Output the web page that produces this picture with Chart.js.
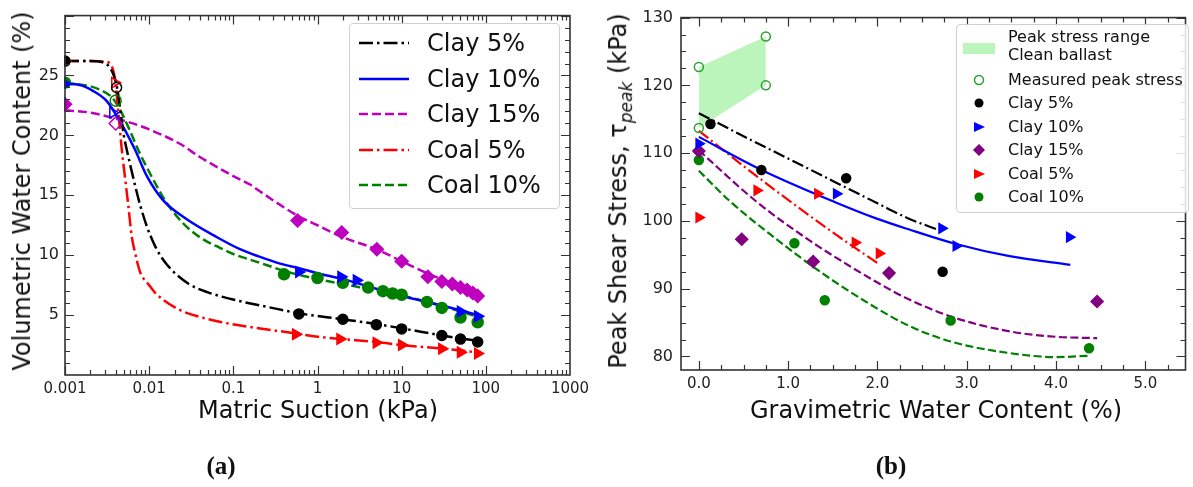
<!DOCTYPE html>
<html>
<head>
<meta charset="utf-8">
<script src="https://cdn.jsdelivr.net/npm/chart.js@4.4.1/dist/chart.umd.min.js"></script>
<style>
body { margin: 0; width: 1193px; height: 487px; background: #fff; position: relative; overflow: hidden; font-family: 'DejaVu Sans', sans-serif; color: #111; }
canvas { position: absolute; top: 0; }
#chartA { left: 0; }
#chartB { left: 600px; }
.ttl { position: absolute; white-space: nowrap; transform: translate(-50%, -50%); font-size: 24px; }
.ttl.rot { transform: translate(-50%, -50%) rotate(-90deg); }
.ttl sub { font-size: 17px; font-style: italic; }
.panel { position: absolute; font-family: 'Liberation Serif', serif; font-weight: bold; font-size: 25px; transform: translate(-50%, -50%); }
.legend { position: absolute; border: 1px solid #d0d0d0; border-radius: 4px; background: rgba(255,255,255,0.85); }
.legend .row { position: absolute; white-space: nowrap; }
.legend svg { position: absolute; }
</style>
</head>
<body>
<canvas id="chartA" width="596" height="487"></canvas>
<canvas id="chartB" width="593" height="487"></canvas>

<div class="ttl rot" style="left:22px; top:191px;">Volumetric Water Content (%)</div>
<div class="ttl" style="left:318px; top:410px;">Matric Suction (kPa)</div>
<div class="ttl rot" style="left:620px; top:191px;">Peak Shear Stress, τ<sub>peak</sub> (kPa)</div>
<div class="ttl" style="left:936px; top:410px;">Gravimetric Water Content (%)</div>
<div class="panel" style="left:221px; top:466px;">(a)</div>
<div class="panel" style="left:891px; top:466px;">(b)</div>

<div class="legend" id="legA" style="left:349px; top:23px; width:209px; height:184px;"></div>
<div class="legend" id="legB" style="left:956px; top:24px; width:231px; height:187px;"></div>

<script>
// ---------- Panel (a): soil water characteristic curves ----------
const seriesNames = ['Clay 5%', 'Clay 10%', 'Clay 15%', 'Coal 5%', 'Coal 10%'];

// fitted curves (suction kPa / water content %)
const clay5CurveS = [0.001, 0.002, 0.0028, 0.0033, 0.0038, 0.0042, 0.0046, 0.005, 0.0055, 0.0065, 0.0078, 0.0095, 0.0107, 0.0125, 0.0163, 0.0296, 0.05, 0.099, 0.34, 0.6, 2, 5, 10, 30, 50, 80];
const clay5CurveW = [26.2, 26.2, 26.1, 25.8, 25.0, 23.8, 21.8, 20.0, 18.6, 16.4, 14.2, 12.3, 11.4, 10.4, 9.2, 7.6, 6.9, 6.3, 5.5, 5.15, 4.65, 4.25, 3.9, 3.3, 3.05, 2.85];
const clay10CurveS = [0.001, 0.0015, 0.00217, 0.0031, 0.0039, 0.0052, 0.0068, 0.0094, 0.0146, 0.028, 0.064, 0.12, 0.2, 0.36, 0.62, 1, 2, 5, 10, 20, 50, 80];
const clay10CurveW = [24.3, 24.2, 23.7, 22.9, 21.9, 20.4, 18.8, 16.6, 14.6, 13.0, 11.5, 10.5, 9.9, 9.3, 8.9, 8.5, 8.0, 7.2, 6.6, 6.1, 5.4, 5.0];
const clay15CurveS = [0.001, 0.002, 0.004, 0.0064, 0.01, 0.0232, 0.04, 0.1, 0.158, 0.2, 0.36, 0.58, 1, 2, 5, 10, 20, 50, 80];
const clay15CurveW = [22.1, 21.9, 21.4, 21.0, 20.5, 19.3, 18.2, 16.6, 15.9, 15.4, 14.2, 13.3, 12.5, 11.5, 10.5, 9.5, 8.5, 7.4, 6.8];
const coal5CurveS = [0.001, 0.002, 0.003, 0.0035, 0.0039, 0.0043, 0.0047, 0.0052, 0.0056, 0.0062, 0.0068, 0.0078, 0.01, 0.012, 0.022, 0.04, 0.073, 0.2, 0.46, 1, 2, 5, 10, 30, 80];
const coal5CurveW = [26.2, 26.2, 26.15, 25.9, 24.8, 22.0, 19.0, 16.3, 14.4, 11.6, 10.2, 8.6, 7.5, 6.8, 5.5, 4.85, 4.4, 3.9, 3.55, 3.2, 3.0, 2.75, 2.5, 2.2, 1.9];
const coal10CurveS = [0.001, 0.002, 0.0026, 0.0037, 0.0047, 0.0059, 0.0074, 0.011, 0.016, 0.025, 0.04, 0.07, 0.1, 0.2, 0.4, 1, 2, 5, 10, 20, 50, 80];
const coal10CurveW = [24.4, 24.1, 23.8, 23.1, 21.9, 20.4, 18.8, 16.4, 14.4, 12.7, 11.5, 10.6, 10.1, 9.4, 8.7, 8.0, 7.6, 7.05, 6.65, 6.1, 5.3, 4.85];

// measured points (second point of each set is drawn open)
const clay5PtS = [0.001, 0.0041, 0.6, 2, 5, 10, 30, 50, 80];
const clay5PtW = [26.2, 24.0, 5.1, 4.65, 4.2, 3.85, 3.3, 3.0, 2.75];
const clay10PtS = [0.001, 0.0037, 0.6, 1.9, 2.9, 50, 80];
const clay10PtW = [24.3, 21.9, 8.6, 8.2, 7.9, 5.3, 4.9];
const clay15PtS = [0.001, 0.004, 0.58, 1.94, 5.07, 10, 20.5, 30, 40, 50, 60, 70, 80];
const clay15PtW = [22.6, 21.0, 12.9, 11.9, 10.5, 9.5, 8.2, 7.8, 7.6, 7.3, 7.1, 6.85, 6.6];
const coal5PtS = [0.001, 0.0039, 0.55, 1.85, 5, 10, 30, 50, 80];
const coal5PtW = [26.2, 24.4, 3.4, 3.0, 2.7, 2.5, 2.2, 1.9, 1.8];
const coal10PtS = [0.001, 0.004, 0.4, 1, 2, 4, 6, 7.8, 10, 20, 30, 50, 80];
const coal10PtW = [24.4, 22.9, 8.4, 8.1, 7.7, 7.3, 7.0, 6.8, 6.7, 6.1, 5.6, 4.8, 4.4];

const suctionTicks = [0.001, 0.01, 0.1, 1, 10, 100, 1000];
const suctionLabels = ['0.001', '0.01', '0.1', '1', '10', '100', '1000'];
const wcTicks = [0, 5, 10, 15, 20, 25, 30];
const wcLabels = ['', '5', '10', '15', '20', '25', ''];

// ---------- Panel (b): peak shear stress ----------
const bandX = [0, 0.75];
const bandTop = [122.7, 127.2];
const bandBottom = [113.7, 120.0];
const measuredX = [0, 0, 0.75, 0.75];
const measuredY = [122.7, 113.7, 127.2, 120.0];

const bClay5X = [0.13, 0.70, 1.65, 2.73];
const bClay5Y = [114.3, 107.5, 106.3, 92.5];
const bClay10X = [0, 1.54, 2.72, 2.88, 4.15];
const bClay10Y = [111.4, 104.0, 98.9, 96.3, 97.6];
const bClay15X = [0, 0.48, 1.28, 2.13, 4.46];
const bClay15Y = [110.3, 97.3, 94.0, 92.3, 88.1];
const bCoal5X = [0, 0.65, 1.33, 1.75, 2.02];
const bCoal5Y = [100.5, 104.5, 104.0, 96.8, 95.2];
const bCoal10X = [0, 1.07, 1.41, 2.82, 4.37];
const bCoal10Y = [109.0, 96.7, 88.3, 85.3, 81.2];

// trend lines
const fitClay5X = [0, 0.5, 1.0, 1.5, 2.0, 2.34, 2.72];
const fitClay5Y = [115.9, 112.5, 109.2, 105.9, 102.6, 100.4, 98.5];
const fitClay10X = [0, 0.69, 1.52, 2.0, 2.34, 2.88, 3.48, 4.16];
const fitClay10Y = [112.4, 107.6, 102.8, 100.3, 98.8, 96.6, 94.8, 93.5];
const fitClay15X = [0, 0.64, 1.23, 1.67, 2.0, 2.34, 2.82, 3.48, 4.0, 4.46];
const fitClay15Y = [110.4, 102.9, 97.2, 93.5, 90.9, 88.5, 85.9, 83.7, 82.9, 82.7];
const fitCoal5X = [0, 0.5, 1.0, 1.5, 2.02];
const fitCoal5Y = [113.3, 108.1, 103.1, 98.3, 93.6];
const fitCoal10X = [0, 0.34, 0.82, 1.38, 1.93, 2.34, 2.82, 3.48, 4.0, 4.36];
const fitCoal10Y = [107.4, 103.0, 97.8, 92.3, 87.6, 84.6, 82.2, 80.5, 79.9, 80.1];

const gwcTicks = [0, 1, 2, 3, 4, 5];
const gwcLabels = ['0.0', '1.0', '2.0', '3.0', '4.0', '5.0'];
const tauTicks = [80, 90, 100, 110, 120, 130];

// ---------- helpers ----------
const pts = (xs, ys) => xs.map((x, i) => ({x: x, y: ys[i]}));
const tickFont = {family: 'DejaVu Sans', size: 15};
const dashDotA = [14, 4, 2.5, 4];
const dashedA = [9, 4];
const dashDotB = [12, 3.5, 2, 3.5];
const dashedB = [8, 3.5];

// inward ticks on all four sides plus the frame
const frameTicks = {
    id: 'frameTicks',
    afterDraw(chart, args, opts) {
        const {ctx, chartArea: a, scales: {x, y}} = chart;
        ctx.save();
        ctx.strokeStyle = '#333';
        ctx.lineWidth = 1.2;
        ctx.beginPath();
        const xt = (vals, len) => vals.forEach(v => {
            const p = Math.round(x.getPixelForValue(v)) + 0.5;
            if (p < a.left || p > a.right) return;
            ctx.moveTo(p, a.bottom); ctx.lineTo(p, a.bottom - len);
            ctx.moveTo(p, a.top); ctx.lineTo(p, a.top + len);
        });
        const yt = (vals, len) => vals.forEach(v => {
            const p = Math.round(y.getPixelForValue(v)) + 0.5;
            if (p < a.top || p > a.bottom) return;
            ctx.moveTo(a.left, p); ctx.lineTo(a.left + len, p);
            ctx.moveTo(a.right, p); ctx.lineTo(a.right - len, p);
        });
        xt(x.ticks.map(t => t.value), 9);
        xt(opts.xMinor, 5);
        yt(y.ticks.map(t => t.value), 9);
        yt(opts.yMinor, 5);
        ctx.stroke();
        ctx.lineWidth = 1.6;
        ctx.strokeRect(a.left, a.top, a.right - a.left, a.bottom - a.top);
        ctx.restore();
    }
};

// minor tick positions
const suctionMinor = [];
suctionTicks.slice(0, -1).forEach(d => { for (let k = 2; k < 10; k++) suctionMinor.push(d * k); });
const wcMinor = [];
for (let v = 0; v <= 30; v++) wcMinor.push(v);
const gwcMinor = [];
for (let v = 0; v <= 5.25; v += 0.25) gwcMinor.push(v);
const tauMinor = [];
for (let v = 80; v <= 130; v += 2.5) tauMinor.push(v);

function curve(xs, ys, color, dash, width) {
    return {type: 'line', data: pts(xs, ys), borderColor: color, borderWidth: width, borderDash: dash,
        pointRadius: 0, fill: false, cubicInterpolationMode: 'monotone', order: 2};
}
function marks(xs, ys, color, style, r, rot, openIdx, fillOverride) {
    return {type: 'scatter', data: pts(xs, ys), showLine: false, pointStyle: style, pointRadius: r,
        pointRotation: rot || 0, borderColor: color, pointBorderColor: color, pointBorderWidth: 1.5,
        pointBackgroundColor: xs.map((v, i) => (i === openIdx || fillOverride) ? 'rgba(0,0,0,0)' : color),
        order: 0, clip: 1};
}

// ---------- chart (a) ----------
const colA = ['#000000', '#0000ff', '#bf00bf', '#ff0000', '#008000'];
new Chart(document.getElementById('chartA'), {
    type: 'scatter',
    data: {
        datasets: [
            curve(clay5CurveS, clay5CurveW, colA[0], dashDotA, 2.5),
            curve(clay10CurveS, clay10CurveW, colA[1], [], 2.5),
            curve(clay15CurveS, clay15CurveW, colA[2], dashedA, 2.5),
            curve(coal5CurveS, coal5CurveW, colA[3], dashDotA, 2.5),
            curve(coal10CurveS, coal10CurveW, colA[4], dashedA, 2.5),
            marks(clay5PtS, clay5PtW, colA[0], 'circle', 5, 0, 1),
            marks(clay10PtS, clay10PtW, colA[1], 'triangle', 6, 90, 1),
            marks(clay15PtS, clay15PtW, colA[2], 'rectRot', 6.5, 0, 1),
            marks(coal5PtS, coal5PtW, colA[3], 'triangle', 6, 90, 1),
            marks(coal10PtS, coal10PtW, colA[4], 'circle', 5.5, 0, 1)
        ]
    },
    options: {
        responsive: false, animation: false, devicePixelRatio: 1,
        layout: {padding: {left: 0, top: 10, right: 26, bottom: 0}},
        plugins: {legend: {display: false}, tooltip: {enabled: false},
            frameTicks: {xMinor: suctionMinor, yMinor: wcMinor}},
        scales: {
            x: {type: 'logarithmic', min: 0.001, max: 1000,
                grid: {display: false, drawTicks: false}, border: {display: false},
                afterBuildTicks: s => { s.ticks = suctionTicks.map(v => ({value: v})); },
                afterFit: s => { s.height = 112; },
                ticks: {font: tickFont, color: '#222', padding: 5, maxRotation: 0, autoSkip: false,
                    callback: (v, i) => suctionLabels[i]}},
            y: {type: 'linear', min: 0, max: 30,
                grid: {display: false, drawTicks: false}, border: {display: false},
                afterBuildTicks: s => { s.ticks = wcTicks.map(v => ({value: v})); },
                afterFit: s => { s.width = 65; },
                ticks: {font: {family: 'DejaVu Sans', size: 16}, color: '#222', padding: 6,
                    callback: (v, i) => wcLabels[i]}}
        }
    },
    plugins: [frameTicks]
});

// ---------- chart (b) ----------
const colB = ['#000000', '#0000ff', '#800080', '#ff0000', '#008000'];
const bandColor = 'rgba(144,238,144,0.6)';
const measuredColor = '#2ca02c';
new Chart(document.getElementById('chartB'), {
    type: 'scatter',
    data: {
        datasets: [
            {type: 'line', data: pts(bandX, bandTop), borderWidth: 0, pointRadius: 0, fill: false, order: 3},
            {type: 'line', data: pts(bandX, bandBottom), borderWidth: 0, pointRadius: 0, fill: 0,
                backgroundColor: bandColor, order: 3},
            curve(fitClay5X, fitClay5Y, colB[0], dashDotB, 2.2),
            curve(fitClay10X, fitClay10Y, colB[1], [], 2.2),
            curve(fitClay15X, fitClay15Y, colB[2], dashedB, 2.2),
            curve(fitCoal5X, fitCoal5Y, colB[3], dashDotB, 2.2),
            curve(fitCoal10X, fitCoal10Y, colB[4], dashedB, 2.2),
            marks(measuredX, measuredY, measuredColor, 'circle', 4.5, 0, -1, true),
            marks(bClay5X, bClay5Y, colB[0], 'circle', 4.5, 0, -1),
            marks(bClay10X, bClay10Y, colB[1], 'triangle', 5.5, 90, -1),
            marks(bClay15X, bClay15Y, colB[2], 'rectRot', 6, 0, -1),
            marks(bCoal5X, bCoal5Y, colB[3], 'triangle', 5.5, 90, -1),
            marks(bCoal10X, bCoal10Y, colB[4], 'circle', 4.5, 0, -1)
        ]
    },
    options: {
        responsive: false, animation: false, devicePixelRatio: 1,
        layout: {padding: {left: 0, top: 16, right: 2, bottom: 0}},
        plugins: {legend: {display: false}, tooltip: {enabled: false},
            frameTicks: {xMinor: gwcMinor, yMinor: tauMinor}},
        scales: {
            x: {type: 'linear', min: -0.2, max: 5.45,
                grid: {display: false, drawTicks: false}, border: {display: false},
                afterBuildTicks: s => { s.ticks = gwcTicks.map(v => ({value: v})); },
                afterFit: s => { s.height = 117; },
                ticks: {font: tickFont, color: '#222', padding: 5, maxRotation: 0, autoSkip: false,
                    callback: (v, i) => gwcLabels[i]}},
            y: {type: 'linear', min: 78, max: 130,
                grid: {display: false, drawTicks: false}, border: {display: false},
                afterBuildTicks: s => { s.ticks = tauTicks.map(v => ({value: v})); },
                afterFit: s => { s.width = 81; },
                ticks: {font: {family: 'DejaVu Sans', size: 16}, color: '#222', padding: 8}}
        }
    },
    plugins: [frameTicks]
});

// ---------- legends ----------
const legA = document.getElementById('legA');
const dashesA = ['14,4,2.5,4', '', '9,4', '14,4,2.5,4', '9,4'];
seriesNames.forEach((name, i) => {
    const cy = 19 + i * 35.5;
    legA.insertAdjacentHTML('beforeend',
        '<svg width="52" height="10" style="left:8px; top:' + (cy - 5) + 'px">' +
        '<line x1="1" y1="5" x2="51" y2="5" stroke="' + colA[i] + '" stroke-width="2.5" stroke-dasharray="' + dashesA[i] + '"/></svg>' +
        '<div class="row" style="left:77px; top:' + (cy - 15) + 'px; font-size:24px; line-height:30px;">' + name + '</div>');
});

const legB = document.getElementById('legB');
const symB = [
    '<circle cx="8" cy="8" r="4.5" fill="none" stroke="' + measuredColor + '" stroke-width="1.5"/>',
    '<circle cx="8" cy="8" r="4.5" fill="' + colB[0] + '"/>',
    '<polygon points="3,3 14,8 3,13" fill="' + colB[1] + '"/>',
    '<polygon points="8,2 14,8 8,14 2,8" fill="' + colB[2] + '"/>',
    '<polygon points="3,3 14,8 3,13" fill="' + colB[3] + '"/>',
    '<circle cx="8" cy="8" r="4.5" fill="' + colB[4] + '"/>'
];
const namesB = ['Measured peak stress'].concat(seriesNames);
legB.insertAdjacentHTML('beforeend',
    '<div style="position:absolute; left:6px; top:18px; width:32px; height:11px; background:' + bandColor + '"></div>' +
    '<div class="row" style="left:51px; top:3px; font-size:16px; line-height:18px;">Peak stress range<br>Clean ballast</div>');
namesB.forEach((name, i) => {
    const cy = 55 + i * 23.4;
    legB.insertAdjacentHTML('beforeend',
        '<svg width="16" height="16" style="left:14px; top:' + (cy - 8) + 'px">' + symB[i] + '</svg>' +
        '<div class="row" style="left:51px; top:' + (cy - 10) + 'px; font-size:16px; line-height:20px;">' + name + '</div>');
});
</script>
</body>
</html>
